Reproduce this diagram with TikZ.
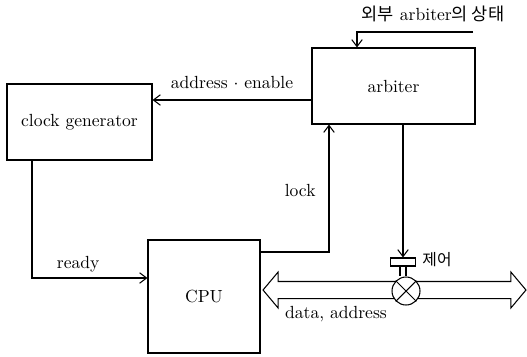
\documentclass[tikz,border=0pt]{standalone}
\usepackage{fontspec}
\newfontfamily\kr{Noto Sans CJK KR}
\usepackage{tikz}
\usetikzlibrary{calc,arrows.meta,shapes.arrows}

\begin{document}
\begin{tikzpicture}
[x=0.02cm, y=-0.02cm, semithick, >={Straight Barb[length=4pt,width=6pt]},
			block/.style={rectangle,draw,inner sep=0pt}]
\useasboundingbox (0,0) rectangle (527,356);

\node (clk) at (79.5,122)[block,minimum width=2.9cm,minimum height=1.52cm] {clock generator};
\node (arb) at (393.5,86)[block,minimum width=3.26cm,minimum height=1.52cm] {arbiter};
\node (cpu) at (204,296.5)[block,minimum width=2.24cm,minimum height=2.26cm] {CPU};

% data/address bus with valve
\node (bus) at (394.5,290)[draw,shape=double arrow,inner xsep=0pt,inner ysep=0.16cm,
	minimum height=5.26cm,
	double arrow head extend=0.19cm,double arrow tip angle=100] {};
\node (valve) at (406,291)[circle,draw,fill=white,minimum size=0.56cm,inner sep=0pt] {};
\draw (valve.45) -- (valve.225);
\draw (valve.135) -- (valve.315);
\node (ctl) at (403,262)[block,minimum width=0.5cm,minimum height=0.16cm] {};
\draw ([xshift=-0.06cm]ctl.south) -- ([xshift=-0.06cm]ctl.south |- valve.north);
\draw ([xshift=0.06cm]ctl.south) -- ([xshift=0.06cm]ctl.south |- valve.north);

\node (ctllbl) at (437,260) {\small\kr 제어};
\node (buslbl) at (336,314) {data, address};
\node (extlbl) at (433,14) {{\kr 외부} arbiter{\kr 의 상태}};

% signals
\coordinate (ext) at (473,32);
\draw[->] (ext) -| (arb.north -| 357,0);
\draw[->] (arb.west |- 0,100) -- node[above=3pt] {address $\cdot$ enable} (clk.east |- 0,100);
\draw[->] (clk.south -| 32,0) |- node[pos=0.7,above] {ready} (cpu.west |- 0,278);
\draw[->] (cpu.east |- 0,252) -| node[pos=0.74,left=4pt] {lock} (arb.south -| 329,0);
\draw[->] (arb.south -| ctl.north) -- (ctl.north);

\end{tikzpicture}
\end{document}
